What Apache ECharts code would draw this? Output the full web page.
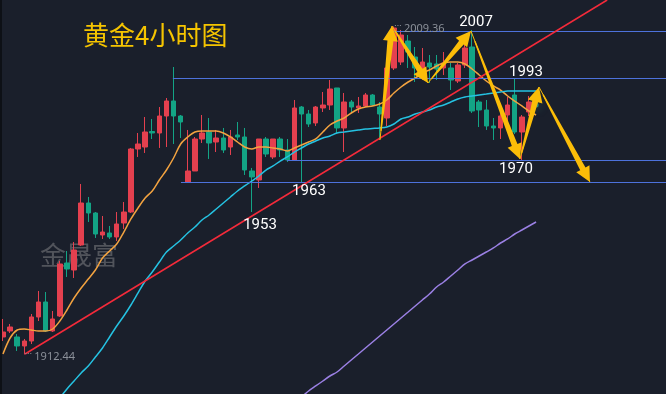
<!DOCTYPE html>
<html><head><meta charset="utf-8">
<script src="https://cdn.jsdelivr.net/npm/echarts@6/dist/echarts.min.js"></script>
<style>html,body{margin:0;padding:0;background:#1a1f2b;}#c{width:666px;height:394px;}</style>
</head><body><div id="c"></div>
<script>
// ---- candle data (4H gold) ----
const opens = [1917.61,1919.38,1917.61,1914.95,1916.42,1923.52,1927.95,1919.38,1923.81,1939.47,
1937.40,1944.79,1957.20,1954.25,1947.75,1948.34,1947.16,1951.29,1954.54,1973.16,
1973.75,1978.33,1977.89,1982.91,1987.35,1982.91,1963.40,1966.66,1976.11,1978.18,
1975.23,1976.41,1973.75,1977.30,1976.71,1966.66,1964.00,1976.11,1970.80,1976.11,
1972.87,1969.91,1985.57,1983.50,1980.85,1985.28,1986.16,1991.19,1979.37,1987.05,
1985.28,1985.87,1989.12,1985.57,1982.32,1997.10,1998.87,2005.07,2000.35,1997.10,
1998.57,1998.28,1997.10,1997.10,1993.25,1997.98,2003.30,1987.05,1984.69,1979.96,
1979.37,1983.21,1989.12,1978.18,1984.09];
const closes = [1919.08,1920.56,1914.95,1916.42,1923.52,1927.95,1919.38,1922.93,1939.18,1937.70,
1943.31,1957.20,1954.25,1948.04,1948.63,1947.16,1951.00,1954.54,1973.16,1974.64,
1978.18,1977.89,1982.91,1987.35,1982.91,1981.14,1966.66,1976.11,1977.89,1974.93,
1976.41,1972.87,1976.71,1976.71,1966.96,1964.89,1976.11,1971.68,1976.11,1972.87,
1969.91,1985.28,1983.50,1980.55,1985.57,1986.16,1990.89,1979.37,1987.05,1985.57,
1985.87,1989.12,1986.16,1983.50,1997.10,2008.92,2006.85,2001.82,1997.10,1998.87,
1997.39,1996.80,1998.57,1993.55,1997.98,2003.01,1984.39,1984.69,1979.96,1979.37,
1982.91,1986.16,1978.18,1982.62,1987.05];
const lows = [1916.42,1918.79,1913.47,1912.44,1915.54,1922.33,1919.08,1919.08,1923.52,1935.34,
1935.04,1944.50,1951.59,1946.86,1946.57,1946.57,1945.97,1949.52,1954.25,1970.80,
1971.98,1976.11,1973.46,1973.75,1974.64,1976.41,1963.40,1966.66,1974.93,1970.21,
1972.27,1971.98,1971.39,1975.82,1965.48,1954.54,1961.64,1970.80,1970.21,1970.80,
1969.32,1969.91,1963.40,1979.66,1979.96,1984.09,1984.69,1977.89,1972.27,1983.80,
1983.80,1985.57,1985.87,1975.82,1979.96,1996.51,1997.98,1997.10,1992.96,1993.55,
1992.66,1993.55,1995.03,1990.60,1992.66,1997.10,1983.80,1979.66,1978.78,1975.82,
1976.11,1979.37,1977.59,1969.91,1982.91];
const highs = [1922.93,1921.45,1918.49,1917.02,1924.40,1931.20,1930.90,1925.29,1940.06,1943.02,
1945.68,1962.82,1958.98,1954.54,1953.36,1950.41,1954.54,1957.50,1973.46,1977.89,
1982.62,1982.03,1985.57,1988.23,1997.39,1983.21,1978.78,1976.71,1983.21,1982.32,
1978.78,1979.37,1978.78,1981.14,1979.37,1967.55,1976.11,1976.71,1976.11,1976.71,
1976.11,1987.64,1985.87,1984.69,1985.87,1990.00,1993.55,1991.19,1989.71,1987.64,
1988.53,1989.71,1989.41,1987.05,1997.10,2009.36,2008.33,2006.85,2003.30,2003.01,
2000.94,2000.94,2001.82,1998.57,1998.57,2003.89,2008.33,1987.64,1987.64,1982.32,
1984.69,1988.53,1994.14,1983.21,1988.82];

// ---- moving averages (index 0..75) ----
const maFast = [1912.58,1917.31,1919.67,1919.97,1919.67,1919.38,1919.38,1919.97,1922.33,1925.58,
1929.13,1932.09,1934.75,1937.40,1940.95,1943.02,1945.09,1948.63,1952.48,1955.73,
1958.68,1960.75,1964.00,1966.95,1970.50,1974.64,1976.71,1978.18,1978.48,1978.48,
1978.48,1977.89,1976.71,1975.23,1973.75,1973.16,1973.75,1973.75,1973.46,1973.16,
1972.57,1973.46,1974.34,1975.23,1976.12,1978.18,1980.25,1981.43,1982.32,1983.80,
1984.98,1985.57,1985.87,1986.46,1987.64,1989.71,1991.48,1992.96,1994.14,1995.62,
1996.50,1997.69,1998.57,1998.87,1998.87,1998.28,1996.80,1995.03,1993.25,1991.78,
1990.59,1988.82,1987.34,1985.87,1984.39,1983.21];
const maMid = ['-','-','-','-','-','-','-','-',1899.58,1902.24,
1904.60,1906.97,1909.04,1911.70,1914.36,1917.61,1920.86,1923.81,1927.06,1930.61,
1934.15,1936.81,1939.77,1942.72,1944.50,1946.27,1948.34,1950.11,1952.18,1953.66,
1955.43,1957.20,1958.98,1960.75,1962.23,1963.70,1965.18,1966.95,1968.14,1969.61,
1970.80,1972.27,1973.46,1974.64,1975.52,1976.41,1977.00,1977.89,1978.18,1978.48,
1978.77,1979.07,1979.22,1979.37,1979.66,1980.55,1982.03,1982.62,1983.50,1984.09,
1984.68,1985.57,1986.16,1987.05,1987.94,1988.53,1988.82,1989.12,1989.41,1989.71,
1990.00,1990.30,1990.30,1990.30,1990.30,1990.30];
const maSlow = ['-','-','-','-','-','-','-','-','-','-',
'-','-','-','-','-','-','-','-','-','-',
'-','-','-','-','-','-','-','-','-','-',
'-','-','-','-','-','-','-','-','-','-',
'-','-',1899.88,1901.65,1903.13,1904.60,1906.08,1907.26,1909.04,1910.81,
1912.58,1914.36,1916.13,1917.90,1919.67,1921.45,1923.22,1924.99,1926.77,1928.54,
1930.31,1932.38,1933.86,1935.63,1937.40,1939.18,1940.36,1941.54,1942.72,1943.91,
1945.38,1946.57,1948.04,1949.22,1950.41,1951.59];

// ---- annotations (bar index, price) ----
const levelStart = [55, 23.9, 39.95, 25.04];
const levelPrice = [2008.03, 1994.14, 1969.91, 1963.40];
const trendIdx = [3.1, 85];
const trendPrice = [1912.58, 2017.19];
const zigIdx = [53.04, 54.73, 59.79, 65.84, 72.74, 75.41, 82.58];
const zigPrice = [1975.82, 2009.51, 1992.66, 2008.03, 1970.21, 1991.48, 1963.40];
const noteText = ['2007', '1993', '1970', '1963', '1953'];
const noteIdx = [66.55, 73.58, 72.17, 43.05, 36.16];
const notePrice = [2010.54, 1995.77, 1967.25, 1960.75, 1950.70];
const lastPrice = 1986.16;

const X_MIN = -0.42, X_MAX = 93.28, Y_MIN = 1900.76, Y_MAX = 2017.19;
const GOLD = '#fbbd08';

const candles = opens.map((o, i) => [i, o, closes[i], lows[i], highs[i]]);
const line = arr => arr.map((v, i) => [i, v]);

let hiI = 0, loI = 0;
highs.forEach((h, i) => { if (h > highs[hiI]) hiI = i; });
lows.forEach((l, i) => { if (l < lows[loI]) loI = i; });
const extremes = [[hiI, highs[hiI], highs[hiI].toFixed(2)], [loI, lows[loI], lows[loI].toFixed(2)]];

const chart = echarts.init(document.getElementById('c'), null, {renderer: 'canvas'});
chart.setOption({
  backgroundColor: '#1a1f2b',
  animation: false,
  grid: {left: 0, right: 0, top: 0, bottom: 0},
  xAxis: {type: 'value', min: X_MIN, max: X_MAX, show: false},
  yAxis: {type: 'value', min: Y_MIN, max: Y_MAX, show: false, scale: true},
  graphic: [
    {type: 'rect', shape: {x: 0, y: 0, width: 2, height: 394}, style: {fill: '#0d1016'}, z: 100},
    {type: 'text', x: 83, y: 35, z: 100, style: {text: '黄金4小时图', fill: '#f5c400', font: '26px "Noto Sans CJK SC"', verticalAlign: 'middle'}},
    {type: 'text', x: 40, y: 255, z: 1, style: {text: '金晟富', fill: 'rgba(105,107,113,0.7)', font: '26px "Noto Sans CJK SC"', verticalAlign: 'middle'}}
  ],
  series: [
    {
      type: 'line', data: line(maSlow), showSymbol: false, smooth: 0.3,
      lineStyle: {color: '#9b80e4', width: 1.5}, z: 2
    },
    {
      type: 'candlestick', data: candles, barWidth: 5, z: 3,
      itemStyle: {color: '#e4404f', color0: '#13a485', borderColor: '#e4404f', borderColor0: '#13a485', borderWidth: 1},
      markLine: {
        silent: true, symbol: ['none', 'none'], label: {show: false},
        data: levelStart.map((s, i) => [
          {coord: [s, levelPrice[i]], lineStyle: {color: '#4d72dc', width: 1, type: 'solid'}},
          {coord: [X_MAX, levelPrice[i]]}
        ]).concat([[
          {coord: [trendIdx[0], trendPrice[0]], lineStyle: {color: '#f42a3a', width: 1.6, type: 'solid'}},
          {coord: [trendIdx[1], trendPrice[1]]}
        ]])
      }
    },
    {
      type: 'line', data: line(maFast), showSymbol: false, smooth: 0.3,
      lineStyle: {color: '#f3a340', width: 1.5}, z: 4
    },
    {
      type: 'line', data: line(maMid), showSymbol: false, smooth: 0.3,
      lineStyle: {color: '#25c2e2', width: 1.5}, z: 4
    },
    {
      type: 'scatter', data: [[opens.length, lastPrice]], symbolSize: 5, z: 5,
      itemStyle: {color: 'rgba(60,220,190,0.7)', shadowBlur: 10, shadowColor: '#3fe0c0'}
    },
    {
      type: 'line', data: zigIdx.map((x, i) => [x, zigPrice[i]]), showSymbol: false,
      lineStyle: {color: GOLD, width: 1}, z: 6
    },
    {
      type: 'custom', z: 7, clip: false,
      data: zigIdx.slice(0, -1).map((x, i) => [x, zigPrice[i]]),
      renderItem: function (params, api) {
        const i = params.dataIndex;
        const p0 = api.coord([zigIdx[i], zigPrice[i]]);
        const p1 = api.coord([zigIdx[i + 1], zigPrice[i + 1]]);
        const dx = p1[0] - p0[0], dy = p1[1] - p0[1];
        const len = Math.sqrt(dx * dx + dy * dy);
        const ux = dx / len, uy = dy / len, nx = -uy, ny = ux;
        const headLen = 15, wh = 7.5, w1 = 3, w0 = 0.7;
        const s = [p0[0] + ux * len * 0.08, p0[1] + uy * len * 0.08];
        const hb = [p1[0] - ux * headLen, p1[1] - uy * headLen];
        const pts = [
          [s[0] + nx * w0, s[1] + ny * w0],
          [hb[0] + nx * w1, hb[1] + ny * w1],
          [hb[0] + nx * wh, hb[1] + ny * wh],
          [p1[0], p1[1]],
          [hb[0] - nx * wh, hb[1] - ny * wh],
          [hb[0] - nx * w1, hb[1] - ny * w1],
          [s[0] - nx * w0, s[1] - ny * w0]
        ];
        return {type: 'polygon', shape: {points: pts}, style: {fill: GOLD}};
      }
    },
    {
      type: 'custom', z: 8, clip: false,
      data: noteIdx.map((x, i) => [x, notePrice[i]]),
      renderItem: function (params, api) {
        const i = params.dataIndex;
        const p = api.coord([noteIdx[i], notePrice[i]]);
        return {type: 'text', x: p[0], y: p[1], style: {text: noteText[i], fill: '#ffffff', font: '15px "Liberation Sans Narrow", Roboto, sans-serif', align: 'center', verticalAlign: 'middle'}};
      }
    },
    {
      type: 'custom', z: 8, clip: false,
      data: extremes.map(e => [e[0], e[1]]),
      renderItem: function (params, api) {
        const e = extremes[params.dataIndex];
        const p = api.coord([e[0], e[1]]);
        return {type: 'group', children: [
          {type: 'line', shape: {x1: p[0] + 1, y1: p[1] - 1, x2: p[0] + 8, y2: p[1] - 1}, style: {stroke: '#8b9099', lineWidth: 1, lineDash: [1, 1.5]}},
          {type: 'text', x: p[0] + 10, y: p[1] + 2, style: {text: e[2], fill: '#8b9099', font: '11px "Noto Sans", sans-serif', align: 'left', verticalAlign: 'middle'}}
        ]};
      }
    }
  ]
});
</script></body></html>
